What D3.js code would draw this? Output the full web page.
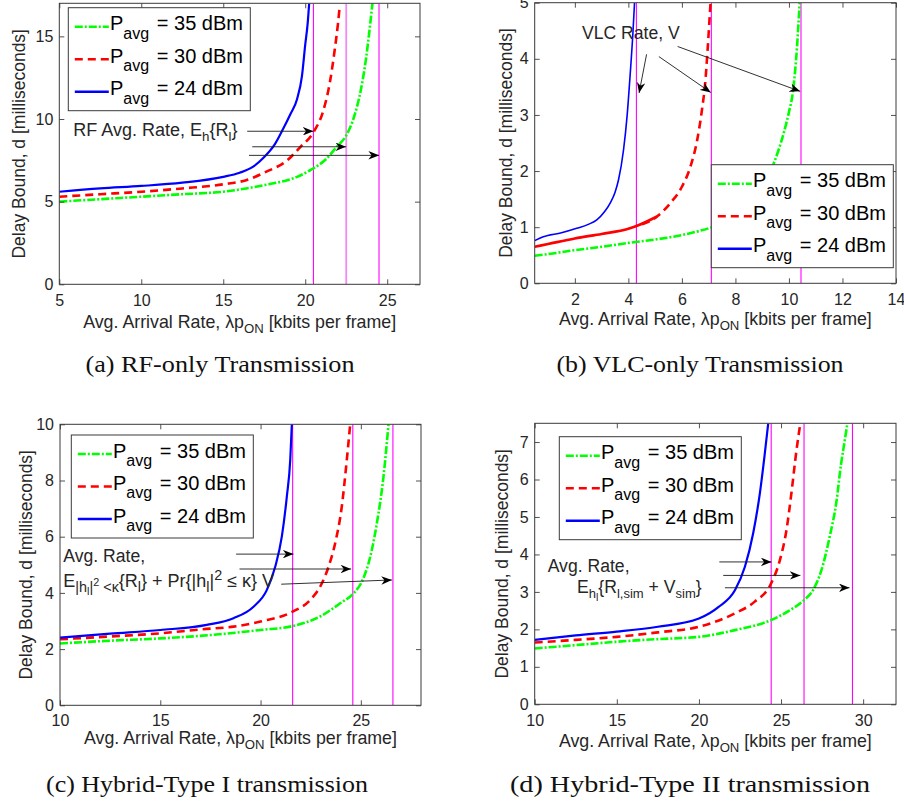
<!DOCTYPE html>
<html><head><meta charset="utf-8">
<script src="https://cdn.jsdelivr.net/npm/d3@7"></script>
<style>
body{margin:0;background:#fff;}
svg{display:block;font-family:"Liberation Sans",Arial,sans-serif;}
</style></head><body>
<svg id="fig" width="904" height="805"></svg>
<script>
// ---------------- data ----------------
const powerLabels = ["35", "30", "24"];
const captions = ["(a) RF-only Transmission", "(b) VLC-only Transmission",
                  "(c) Hybrid-Type I transmission", "(d) Hybrid-Type II transmission"];

// (a) RF-only
const rfX35 = [5,7.5,10,12.5,15,16.4,17.5,18.9,19.5,20.3,20.8,21.3,21.9,22.5,23.0,23.4,23.7,23.9,24.1];
const rfD35 = [5.0,5.15,5.3,5.45,5.6,5.8,6.0,6.3,6.5,6.9,7.2,7.6,8.3,9.0,10.2,11.8,13.6,15.2,17.0];
const rfX30 = [5,7.5,10,12.5,15,16.4,17.6,18.9,19.7,20.5,21.1,21.5,21.8,22.0,22.1];
const rfD30 = [5.3,5.45,5.6,5.8,6.05,6.3,6.8,7.5,8.3,9.2,10.5,12.2,14.2,15.8,16.8];
const rfX24 = [5,7.5,10,12.5,15,16.0,16.8,17.5,18.1,18.6,19.1,19.5,19.8,20.0,20.15,20.24];
const rfD24 = [5.6,5.8,5.95,6.15,6.5,6.75,7.1,7.7,8.4,9.3,10.3,11.2,12.6,14.5,15.8,17.0];
const rfRates = [20.5, 22.5, 24.5];
const rfArrows = [[16.46,9.26,20.5,9.26],[16.77,8.32,22.5,8.32],[16.57,7.8,24.5,7.8]];
const rfXTicks = [5,10,15,20,25];
const rfYTicks = [0,5,10,15];

// (b) VLC-only
const vlcX35 = [0.5,1,2,3,4,5,6,7,7.5,8,8.5,9,9.41,9.8,10.0,10.15,10.3,10.4];
const vlcD35 = [0.49,0.52,0.59,0.65,0.72,0.78,0.86,0.98,1.06,1.2,1.4,1.7,2.11,2.67,3.05,3.42,4.2,5.0];
const vlcX30 = [0.5,1,2,3,4,4.3,5.07,5.57,6.0,6.32,6.57,6.75,6.88,6.96,7.07];
const vlcD30 = [0.65,0.7,0.8,0.88,0.97,1.02,1.19,1.43,1.72,2.08,2.55,3.09,3.62,4.16,5.0];
const vlcX24 = [0.5,0.82,1.5,2.07,2.5,2.82,3.1,3.32,3.5,3.63,3.82,3.95,4.07,4.17,4.23];
const vlcD24 = [0.76,0.83,0.9,0.98,1.05,1.13,1.27,1.43,1.62,1.84,2.38,2.97,3.74,4.46,5.0];
const vlcRates = [4.3, 7.1, 10.45];
const vlcArrows = [[4.68,4.08,4.40,3.39],[5.14,4.04,7.08,3.40],[5.84,4.22,10.42,3.42]];
const vlcXTicks = [2,4,6,8,10,12,14];
const vlcYTicks = [0,1,2,3,4,5];

// (c) Hybrid-Type I
const hy1X35 = [10,12.5,15,17.5,20,21.6,22.97,23.97,24.64,25.05,25.47,25.8,26.13,26.38];
const hy1D35 = [2.2,2.3,2.38,2.5,2.68,2.82,3.16,3.63,3.99,4.4,5.29,6.48,8.14,10];
const hy1X30 = [10,12.5,15,17,18.65,20,21.6,22.48,22.97,23.39,23.72,24.05,24.3,24.47];
const hy1D30 = [2.35,2.45,2.56,2.7,2.8,2.98,3.33,3.75,4.22,4.93,5.77,7.07,8.73,10];
const hy1X24 = [10,12.5,15,17.32,18.65,19.65,20.31,20.73,21.06,21.31,21.48,21.56];
const hy1D24 = [2.41,2.55,2.68,2.86,3.1,3.51,4.1,4.93,6.0,7.43,8.73,10];
const hy1Rates = [21.6, 24.6, 26.6];
const hy1Arrows = [[18.78,5.38,21.64,5.38],[18.95,4.85,24.52,4.85],[21.03,4.31,26.55,4.46]];
const hy1XTicks = [10,15,20,25];
const hy1YTicks = [0,2,4,6,8,10];

// (d) Hybrid-Type II
const hy2X35 = [10,12.5,15,17.5,20,22.2,24.4,25.5,26.4,26.95,27.46,27.96,28.37,28.65,28.9,29.04];
const hy2D35 = [1.49,1.58,1.67,1.74,1.8,1.98,2.25,2.5,2.78,3.05,3.58,4.47,5.4,6.4,7.1,7.5];
const hy2X30 = [10,12.5,15,17.5,20,22.2,23.4,24.4,24.93,25.33,25.63,25.94,26.14];
const hy2D30 = [1.65,1.72,1.8,1.92,2.07,2.43,2.74,3.23,3.85,4.65,5.63,6.78,7.4];
const hy2X24 = [10,12.5,15,17.5,20,21.2,22.2,22.8,23.3,23.71,24.01,24.22];
const hy2D24 = [1.72,1.84,1.94,2.07,2.29,2.6,3.05,3.67,4.56,5.63,6.69,7.5];
const hy2Rates = [24.4, 26.4, 29.35];
const hy2Arrows = [[21.24,3.80,24.42,3.80],[21.48,3.44,26.18,3.44],[21.58,3.11,29.17,3.11]];
const hy2XTicks = [10,15,20,25,30];
const hy2YTicks = [0,1,2,3,4,5,6,7];

// ---------------- styles ----------------
const seriesStyle = [
  {color:"#00ff00", width:2.6, dash:"8,2,2,2"},
  {color:"#ff0000", width:2.6, dash:"8,5"},
  {color:"#0000ff", width:2.2, dash:null}
];
const AXC = "#262626";
const svg = d3.select("#fig");
const defs = svg.append("defs");
defs.append("marker").attr("id","ah").attr("viewBox","0 0 10 8")
  .attr("refX",10).attr("refY",4).attr("markerWidth",11).attr("markerHeight",8.5)
  .attr("markerUnits","userSpaceOnUse").attr("orient","auto")
  .append("path").attr("d","M0,0 L10,4 L0,8 L3,4 Z").attr("fill","#000");

function richText(g, x, y, parts, base, subScale){
  const ss = subScale || 0.74;
  const offs = {n:[0,base], s:[5,base*ss], ss:[8.5,base*0.6], sp:[-1,base*0.6], p:[-7,base*ss]};
  const t = g.append("text").attr("x",x).attr("y",y).attr("fill",AXC).attr("font-size",base);
  let prev = 0;
  parts.forEach(([txt,m]) => {
    const [o,fs] = offs[m];
    t.append("tspan").attr("dy",o-prev).attr("font-size",fs).text(txt);
    prev = o;
  });
  return t;
}

const panels = [
  {xs:[rfX35,rfX30,rfX24], ds:[rfD35,rfD30,rfD24], rates:rfRates, arrows:rfArrows,
   xt:rfXTicks, yt:rfYTicks, xDom:[5,27], yDom:[0,17],
   box:{left:59.3, top:3.3, width:360.7, height:281}, leg:[68.3,7.7], ylabX:19, xlabDy:44, tickPad:10.6,
   cap:[220,372,269], midLight:true},
  {xs:[vlcX35,vlcX30,vlcX24], ds:[vlcD35,vlcD30,vlcD24], rates:vlcRates, arrows:vlcArrows,
   xt:vlcXTicks, yt:vlcYTicks, xDom:[0.5,14], yDom:[0,5],
   box:{left:534.7, top:2.7, width:361.3, height:280.6}, leg:[711.3,164.7], ylabX:506, xlabDy:42, tickPad:10.6,
   cap:[700,372,287], redSolidUntil:5.0, blueWidth:1.6},
  {xs:[hy1X35,hy1X30,hy1X24], ds:[hy1D35,hy1D30,hy1D24], rates:hy1Rates, arrows:hy1Arrows,
   xt:hy1XTicks, yt:hy1YTicks, xDom:[10,28], yDom:[0,10],
   box:{left:60, top:424.3, width:361, height:281}, leg:[71.3,435], ylabX:26, xlabDy:38.5, tickPad:9.8,
   cap:[207,792,322]},
  {xs:[hy2X35,hy2X30,hy2X24], ds:[hy2D35,hy2D30,hy2D24], rates:hy2Rates, arrows:hy2Arrows,
   xt:hy2XTicks, yt:hy2YTicks, xDom:[10,32], yDom:[0,7.5],
   box:{left:534.7, top:423.3, width:361.3, height:281}, leg:[559.3,436.7], ylabX:502, xlabDy:42.5, tickPad:10.6,
   cap:[690,792,360]}
];

panels.forEach((P, pi) => {
  const b = P.box;
  const g = svg.append("g");
  const x = d3.scaleLinear().domain(P.xDom).range([b.left, b.left+b.width]);
  const y = d3.scaleLinear().domain(P.yDom).range([b.top+b.height, b.top]);
  const cid = "clip"+pi;
  defs.append("clipPath").attr("id",cid).append("rect")
    .attr("x",b.left).attr("y",b.top).attr("width",b.width).attr("height",b.height);
  const plot = g.append("g").attr("clip-path",`url(#${cid})`);

  // rate lines
  P.rates.forEach((r,i) => {
    const light = P.midLight && i===1;
    plot.append("line").attr("x1",x(r)).attr("x2",x(r)).attr("y1",b.top).attr("y2",b.top+b.height)
      .attr("stroke", light ? "#f38af3" : "#ff00ff").attr("stroke-width", light?1.8:1.1);
  });

  // curves
  const line = d3.line().x(d=>x(d[0])).y(d=>y(d[1])).curve(d3.curveMonotoneX);
  P.xs.forEach((xs,si) => {
    const st = seriesStyle[si];
    const pts = xs.map((v,k)=>[v, P.ds[si][k]]);
    const w = (si===2 && P.blueWidth) ? P.blueWidth : st.width;
    if (si===1 && P.redSolidUntil){
      const a = pts.filter(p=>p[0]<=P.redSolidUntil+0.1);
      const c = pts.filter(p=>p[0]>=P.redSolidUntil-0.8);
      plot.append("path").attr("d",line(a)).attr("fill","none").attr("stroke",st.color).attr("stroke-width",w);
      plot.append("path").attr("d",line(c)).attr("fill","none").attr("stroke",st.color).attr("stroke-width",w)
        .attr("stroke-dasharray",st.dash).attr("stroke-dashoffset",-6);
    } else {
      plot.append("path").attr("d",line(pts)).attr("fill","none").attr("stroke",st.color)
        .attr("stroke-width",w).attr("stroke-dasharray",st.dash);
    }
  });

  // arrows
  P.arrows.forEach(a => {
    g.append("line").attr("x1",x(a[0])).attr("y1",y(a[1])).attr("x2",x(a[2])).attr("y2",y(a[3]))
      .attr("stroke","#1a1a1a").attr("stroke-width",0.9).attr("marker-end","url(#ah)");
  });

  // axes (MATLAB style, inward ticks, box)
  const fmt = d3.format("d");
  const bottom = g.append("g").attr("transform",`translate(0,${b.top+b.height})`)
    .call(d3.axisBottom(x).tickValues(P.xt).tickFormat(fmt).tickSizeInner(-5).tickSizeOuter(0).tickPadding(P.tickPad));
  const top = g.append("g").attr("transform",`translate(0,${b.top})`)
    .call(d3.axisTop(x).tickValues(P.xt).tickSizeInner(-5).tickSizeOuter(0).tickFormat(""));
  const left = g.append("g").attr("transform",`translate(${b.left},0)`)
    .call(d3.axisLeft(y).tickValues(P.yt).tickFormat(fmt).tickSizeInner(-5).tickSizeOuter(0).tickPadding(6));
  const right = g.append("g").attr("transform",`translate(${b.left+b.width},0)`)
    .call(d3.axisRight(y).tickValues(P.yt).tickSizeInner(-5).tickSizeOuter(0).tickFormat(""));
  [bottom,top,left,right].forEach(ax => {
    ax.selectAll("path.domain").remove();
    ax.selectAll(".tick line").attr("stroke",AXC).attr("stroke-width",0.8);
    ax.selectAll(".tick text").attr("fill",AXC).attr("font-size",16)
      .attr("font-family",'"Liberation Sans",Arial,sans-serif');
  });
  g.append("rect").attr("x",b.left).attr("y",b.top).attr("width",b.width).attr("height",b.height)
    .attr("fill","none").attr("stroke","#3a3a3a").attr("stroke-width",1);

  // axis labels
  const xl = richText(g, b.left+b.width/2, b.top+b.height+P.xlabDy,
    [["Avg. Arrival Rate, λp","n"],["ON","s"],[" [kbits per frame]","n"]], 17.8);
  xl.attr("text-anchor","middle");
  g.append("text").attr("transform",`translate(${P.ylabX},${b.top+b.height/2}) rotate(-90)`)
    .attr("text-anchor","middle").attr("dy","0.35em").attr("font-size",17.5).attr("fill",AXC)
    .text("Delay Bound, d [milliseconds]");

  // legend
  const [lx,ly] = P.leg;
  const lg = g.append("g");
  lg.append("rect").attr("x",lx).attr("y",ly).attr("width",182).attr("height",103)
    .attr("fill","#fff").attr("stroke","#3a3a3a").attr("stroke-width",1);
  powerLabels.forEach((pw,i) => {
    const st = seriesStyle[i];
    const yy = ly + 19 + i*32.5;
    lg.append("line").attr("x1",lx+6.5).attr("x2",lx+40.5).attr("y1",yy).attr("y2",yy)
      .attr("stroke",st.color).attr("stroke-width",2.4).attr("stroke-dasharray",st.dash);
    const t = lg.append("text").attr("x",lx+41.7).attr("y",ly+22.5+i*32.5).attr("fill","#000").attr("font-size",20);
    t.append("tspan").text("P");
    t.append("tspan").attr("dy",8.3).attr("font-size",16).text("avg");
    lg.append("text").attr("x",lx+88.5).attr("y",ly+22.5+i*32.5).attr("fill","#000").attr("font-size",20)
      .text(`= ${pw} dBm`);
  });

  // captions
  svg.append("text").attr("x",P.cap[0]).attr("y",P.cap[1]).attr("text-anchor","middle")
    .attr("font-family",'"Liberation Serif","Times New Roman",serif').attr("font-size",24)
    .attr("textLength",P.cap[2]).attr("lengthAdjust","spacingAndGlyphs")
    .attr("fill","#111").text(captions[pi]);

  P.g = g;
});

// ---------------- annotations ----------------
richText(panels[0].g, 73.3, 135.5, [["RF Avg. Rate, E","n"],["h","s"],["{R","n"],["l","s"],["}","n"]], 18);
richText(panels[1].g, 582, 39, [["VLC Rate, V","n"]], 17.6);
richText(panels[2].g, 63.3, 561.7, [["Avg. Rate,","n"]], 17.6);
richText(panels[2].g, 63.3, 586.7, [["E","n"],["|h","s"],["l","ss"],["|","s"],["2","sp"],[" <κ","s"],
  ["{R","n"],["l","s"],["} + Pr{|h","n"],["l","s"],["|","n"],["2","p"],[" ≤ κ} V","n"]], 18, 0.8);
richText(panels[3].g, 547.7, 571.7, [["Avg. Rate,","n"]], 17.6);
richText(panels[3].g, 577, 592.7, [["E","n"],["h","s"],["l","ss"],["{R","n"],["l,sim","s"],[" + V","n"],["sim","s"],["}","n"]], 17.6);
</script>
</body></html>
